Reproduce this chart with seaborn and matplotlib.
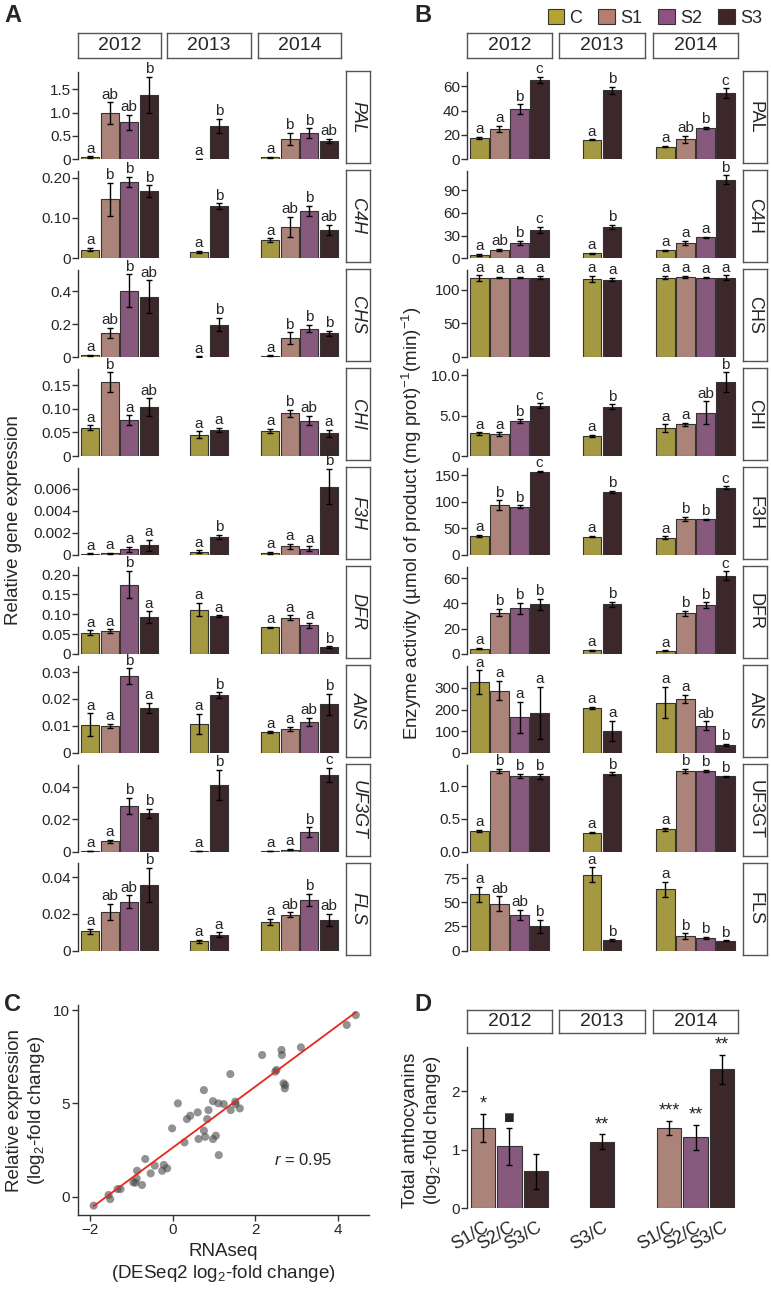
import numpy as np
import pandas as pd
import matplotlib
matplotlib.use('Agg')
import matplotlib.pyplot as plt
from matplotlib.patches import Patch
import seaborn as sns

# ---- data ----
groups = ['C', 'S1', 'S2', 'S3']
years = ['2012', '2013', '2014']
year_groups = [['C', 'S1', 'S2', 'S3'], ['C', 'S3'], ['C', 'S1', 'S2', 'S3']]
genes = ['PAL', 'C4H', 'CHS', 'CHI', 'F3H', 'DFR', 'ANS', 'UF3GT', 'FLS']
colors = {'C': '#b5a432', 'S1': '#b57e70', 'S2': '#8e5181', 'S3': '#3f2527'}

# value order in each list: 2012 C S1 S2 S3 | 2013 C S3 | 2014 C S1 S2 S3
expr_mean = {
    'PAL': [0.04, 0.99, 0.79, 1.38, 0.01, 0.72, 0.04, 0.43, 0.56, 0.39],
    'C4H': [0.021, 0.146, 0.19, 0.167, 0.016, 0.129, 0.045, 0.077, 0.118, 0.07],
    'CHS': [0.01, 0.148, 0.404, 0.368, 0.003, 0.198, 0.008, 0.114, 0.174, 0.144],
    'CHI': [0.060, 0.156, 0.076, 0.103, 0.045, 0.055, 0.053, 0.090, 0.075, 0.048],
    'F3H': [0.0001, 0.00015, 0.0005, 0.00087, 0.0003, 0.0016, 0.0002, 0.00078, 0.00057, 0.0062],
    'DFR': [0.053, 0.057, 0.175, 0.092, 0.112, 0.095, 0.067, 0.091, 0.072, 0.017],
    'ANS': [0.0105, 0.010, 0.0284, 0.0166, 0.0107, 0.0215, 0.0077, 0.0088, 0.0114, 0.018],
    'UF3GT': [0.0002, 0.0065, 0.0283, 0.0237, 0.0002, 0.0415, 0.0003, 0.0012, 0.0121, 0.0477],
    'FLS': [0.0105, 0.0213, 0.0267, 0.036, 0.0051, 0.0087, 0.0155, 0.0195, 0.0278, 0.0167],
}
expr_err = {
    'PAL': [0.02, 0.23, 0.16, 0.38, 0.005, 0.15, 0.01, 0.13, 0.1, 0.05],
    'C4H': [0.004, 0.041, 0.012, 0.014, 0.003, 0.007, 0.004, 0.025, 0.012, 0.012],
    'CHS': [0.005, 0.03, 0.1, 0.1, 0.002, 0.04, 0.003, 0.036, 0.022, 0.014],
    'CHI': [0.005, 0.021, 0.01, 0.019, 0.007, 0.005, 0.004, 0.008, 0.01, 0.008],
    'F3H': [0.00005, 0.00005, 0.0002, 0.0005, 0.0001, 0.0002, 0.0001, 0.0002, 0.0002, 0.0016],
    'DFR': [0.006, 0.005, 0.035, 0.015, 0.016, 0.002, 0.002, 0.006, 0.006, 0.002],
    'ANS': [0.0042, 0.0007, 0.003, 0.002, 0.0038, 0.001, 0.0003, 0.0008, 0.0015, 0.004],
    'UF3GT': [0.0001, 0.001, 0.005, 0.003, 0.0001, 0.0094, 0.0001, 0.0004, 0.003, 0.0045],
    'FLS': [0.0015, 0.0044, 0.0034, 0.0093, 0.0008, 0.0013, 0.0017, 0.0014, 0.0033, 0.0035],
}
expr_letters = {
    'PAL': ['a', 'ab', 'ab', 'b', 'a', 'b', 'a', 'b', 'b', 'ab'],
    'C4H': ['a', 'b', 'b', 'b', 'a', 'b', 'a', 'ab', 'b', 'ab'],
    'CHS': ['a', 'ab', 'b', 'ab', 'a', 'b', 'a', 'b', 'b', 'b'],
    'CHI': ['a', 'b', 'a', 'ab', 'a', 'a', 'a', 'b', 'ab', 'a'],
    'F3H': ['a', 'a', 'a', 'a', 'a', 'b', 'a', 'a', 'a', 'b'],
    'DFR': ['a', 'a', 'b', 'a', 'a', 'a', 'a', 'a', 'a', 'b'],
    'ANS': ['a', 'a', 'b', 'a', 'a', 'b', 'a', 'a', 'ab', 'b'],
    'UF3GT': ['a', 'a', 'b', 'b', 'a', 'b', 'a', 'a', 'b', 'c'],
    'FLS': ['a', 'ab', 'ab', 'b', 'a', 'a', 'a', 'ab', 'b', 'ab'],
}
expr_ymax = {'PAL': 1.86, 'C4H': 0.216, 'CHS': 0.53, 'CHI': 0.184, 'F3H': 0.0079,
             'DFR': 0.22, 'ANS': 0.0324, 'UF3GT': 0.054, 'FLS': 0.0476}
expr_ticks = {
    'PAL': ['0', '0.5', '1.0', '1.5'], 'C4H': ['0', '0.10', '0.20'], 'CHS': ['0', '0.2', '0.4'],
    'CHI': ['0', '0.05', '0.10', '0.15'], 'F3H': ['0', '0.002', '0.004', '0.006'],
    'DFR': ['0', '0.05', '0.10', '0.15', '0.20'], 'ANS': ['0', '0.01', '0.02', '0.03'],
    'UF3GT': ['0', '0.02', '0.04'], 'FLS': ['0', '0.02', '0.04'],
}

enz_mean = {
    'PAL': [17.4, 24.8, 41.3, 65.6, 16, 56.7, 10.5, 16.5, 25.9, 54.5],
    'C4H': [4.4, 11.1, 20, 37.8, 6.7, 41.3, 10.2, 20.4, 27.6, 103.5],
    'CHS': [117, 118, 118, 118, 116, 115, 118, 118.5, 118, 118],
    'CHI': [2.8, 2.68, 4.3, 6.23, 2.5, 6.1, 3.47, 3.93, 5.4, 9.2],
    'F3H': [35.7, 93.6, 91, 157, 34.4, 119, 32.5, 68, 67, 127],
    'DFR': [4, 32.6, 36, 39.2, 2.9, 39.2, 2.4, 32, 38.7, 61.8],
    'ANS': [326, 287, 165, 184, 207, 100, 232, 249, 125, 37],
    'UF3GT': [0.32, 1.23, 1.16, 1.15, 0.29, 1.19, 0.34, 1.23, 1.23, 1.15],
    'FLS': [58, 48.6, 37, 25, 78.5, 10.4, 63.2, 14.6, 13.2, 10],
}
enz_err = {
    'PAL': [1, 2.5, 4, 2.5, 0.5, 3, 0.5, 3, 1, 4],
    'C4H': [1, 1, 3, 4, 0.5, 2.5, 1, 2.5, 1, 6],
    'CHS': [4, 1, 1, 2, 4, 2, 2, 1.5, 1, 3],
    'CHI': [0.15, 0.25, 0.25, 0.3, 0.1, 0.3, 0.45, 0.2, 1.4, 1.2],
    'F3H': [2, 9, 2.5, 1.5, 1.5, 1.5, 2.5, 3.5, 1.5, 2],
    'DFR': [0.5, 3, 4.5, 4.5, 0.3, 2, 0.3, 2, 2, 3.5],
    'ANS': [55, 45, 72, 120, 4, 48, 72, 18, 20, 4],
    'UF3GT': [0.015, 0.03, 0.03, 0.04, 0.01, 0.02, 0.02, 0.03, 0.02, 0.01],
    'FLS': [8, 7.5, 5, 6.5, 7.5, 1, 8, 3, 1, 0.5],
}
enz_letters = {
    'PAL': ['a', 'a', 'b', 'c', 'a', 'b', 'a', 'ab', 'b', 'c'],
    'C4H': ['a', 'ab', 'b', 'c', 'a', 'b', 'a', 'a', 'a', 'b'],
    'CHS': ['a', 'a', 'a', 'a', 'a', 'a', 'a', 'a', 'a', 'a'],
    'CHI': ['a', 'a', 'b', 'c', 'a', 'b', 'a', 'a', 'ab', 'b'],
    'F3H': ['a', 'b', 'b', 'c', 'a', 'b', 'a', 'b', 'b', 'c'],
    'DFR': ['a', 'b', 'b', 'b', 'a', 'b', 'a', 'b', 'b', 'c'],
    'ANS': ['a', 'a', 'a', 'a', 'a', 'a', 'a', 'a', 'ab', 'b'],
    'UF3GT': ['a', 'b', 'b', 'b', 'a', 'b', 'a', 'b', 'b', 'b'],
    'FLS': ['a', 'ab', 'ab', 'b', 'a', 'b', 'a', 'b', 'b', 'b'],
}
enz_ymax = {'PAL': 71.6, 'C4H': 115, 'CHS': 129, 'CHI': 10.8, 'F3H': 164,
            'DFR': 69, 'ANS': 403, 'UF3GT': 1.33, 'FLS': 90}
enz_ticks = {
    'PAL': ['0', '20', '40', '60'], 'C4H': ['0', '30', '60', '90'], 'CHS': ['0', '50', '100'],
    'CHI': ['0', '5.0', '10.0'], 'F3H': ['0', '50', '100', '150'], 'DFR': ['0', '20', '40', '60'],
    'ANS': ['0', '100', '200', '300'], 'UF3GT': ['0.0', '0.5', '1.0'], 'FLS': ['0', '25', '50', '75'],
}

# panel C: RNAseq vs qPCR log2 fold changes
rnaseq_lfc = [-1.92, -1.56, -1.52, -1.34, -1.27, -0.96, -0.91, -0.88, -0.87, -0.75,
              -0.67, -0.54, -0.44, -0.26, -0.22, -0.14, -0.02, 0.12, 0.28, 0.34,
              0.42, 0.60, 0.62, 0.75, 0.75, 0.78, 0.83, 0.86, 0.97, 0.97,
              1.04, 1.10, 1.11, 1.23, 1.39, 1.40, 1.51, 1.52, 1.62, 2.16,
              2.48, 2.51, 2.63, 2.64, 2.68, 2.72, 2.71, 3.10, 4.21, 4.43]
qpcr_lfc = [-0.48, 0.09, -0.13, 0.41, 0.41, 0.77, 0.75, 0.98, 1.39, 0.63,
            2.02, 1.25, 1.66, 1.39, 1.70, 1.52, 3.66, 5.0, 2.91, 4.16,
            4.34, 4.52, 3.09, 5.71, 3.54, 3.21, 4.16, 4.64, 3.09, 5.12,
            3.27, 5.0, 2.23, 4.96, 6.57, 4.64, 5.09, 4.96, 4.73, 7.59,
            6.70, 6.79, 7.86, 7.59, 6.07, 5.98, 5.80, 8.0, 9.20, 9.73]

# panel D: total anthocyanins
d_groups = [['S1/C', 'S2/C', 'S3/C'], ['S3/C'], ['S1/C', 'S2/C', 'S3/C']]
d_mean = [[1.38, 1.06, 0.63], [1.14], [1.38, 1.21, 2.38]]
d_err = [[0.24, 0.32, 0.30], [0.13], [0.12, 0.22, 0.25]]
d_marks = [['*', '\u25a0', ''], ['**'], ['***', '**', '**']]
d_colors = {'S1/C': colors['S1'], 'S2/C': colors['S2'], 'S3/C': colors['S3']}

# ---- style ----
sns.set_theme(style='ticks')
plt.rcParams['font.family'] = ['Liberation Sans', 'DejaVu Sans']
plt.rcParams['mathtext.fontset'] = 'custom'
plt.rcParams['mathtext.rm'] = 'Liberation Sans'
plt.rcParams['mathtext.it'] = 'Liberation Sans:italic'
ink = '#333333'

W, H = 771, 1298
fig = plt.figure(figsize=(W / 100, H / 100), dpi=100)


def px(x0, y0, x1, y1):
    return [x0 / W, 1 - y1 / H, (x1 - x0) / W, (y1 - y0) / H]


def label_box(x0, y0, x1, y1, text, rot=0, style='normal', size=14):
    bx = fig.add_axes(px(x0, y0, x1, y1))
    bx.set_xticks([])
    bx.set_yticks([])
    for s in bx.spines.values():
        s.set_color('#555555')
        s.set_linewidth(1)
    bx.text(0.5, 0.5, text, rotation=rot, style=style, fontsize=size,
            ha='center', va='center', transform=bx.transAxes)


def bars(ax, order, means, errs, marks, palette, width, xlim, ylim, mark_size=11):
    df = pd.DataFrame({'group': order, 'value': means})
    sns.barplot(data=df, x='group', y='value', hue='group', order=order, hue_order=order,
                palette=palette, width=width, edgecolor=ink, linewidth=0.8,
                errorbar=None, legend=False, ax=ax)
    pos = np.arange(len(order))
    ax.errorbar(pos, means, yerr=errs, fmt='none', ecolor='black',
                elinewidth=1, capsize=2.5, capthick=1)
    for p, m, e, t in zip(pos, means, errs, marks):
        ax.annotate(t, (p, m + e), xytext=(0, 0.5), textcoords='offset points',
                    ha='center', va='bottom', fontsize=mark_size, annotation_clip=False)
    ax.set_xlim(*xlim)
    ax.set_ylim(*ylim)
    ax.set_xlabel('')
    ax.set_ylabel('')


def gene_grid(col_x, strip_x, mean_d, err_d, let_d, ymax_d, ticks_d, gene_style):
    for i, g in enumerate(genes):
        zero = 159.3 + 98.9 * i
        top = zero - 87
        k = 0
        for j, (x0, x1) in enumerate(col_x):
            order = year_groups[j]
            n = len(order)
            m = mean_d[g][k:k + n]
            e = err_d[g][k:k + n]
            t = let_d[g][k:k + n]
            k += n
            ax = fig.add_axes(px(x0, top, x1, zero))
            ax.patch.set_alpha(0)
            xl = (-0.62, 3.62) if n == 4 else (-1.62, 2.62)
            bars(ax, order, m, e, t, colors, 0.92, xl, (0, ymax_d[g]))
            ax.set_xticks([])
            if j == 0:
                sns.despine(ax=ax, bottom=True)
                ax.spines['left'].set_color(ink)
                ax.spines['left'].set_linewidth(1)
                ax.set_yticks([float(v) for v in ticks_d[g]])
                ax.set_yticklabels(ticks_d[g])
                ax.tick_params(axis='y', length=4, width=1, color=ink, labelsize=11, pad=1)
            else:
                ax.axis('off')
        label_box(strip_x[0], top - 1, strip_x[1], zero + 4, g, rot=270,
                  style=gene_style, size=13)
    for (x0, x1), y in zip(col_x, years):
        label_box(x0, 33, x1, 58, y)


# ---- panel A and B ----
a_cols = [(78, 161), (167, 251), (258, 341)]
b_cols = [(467, 552), (559, 645), (653, 738)]
gene_grid(a_cols, (346, 370), expr_mean, expr_err, expr_letters, expr_ymax, expr_ticks, 'italic')
gene_grid(b_cols, (743, 767), enz_mean, enz_err, enz_letters, enz_ymax, enz_ticks, 'normal')

fig.text(14 / W, 1 - 520 / H, 'Relative gene expression', rotation=90,
         ha='center', va='center', fontsize=13.5)
fig.text(412 / W, 1 - 523 / H,
         'Enzyme activity (\u00b5mol of product (mg prot)$^{-1}$(min)$^{-1}$)',
         rotation=90, ha='center', va='center', fontsize=13.5)

handles = [Patch(facecolor=colors[g], edgecolor=ink, linewidth=0.8, label=g) for g in groups]
fig.legend(handles=handles, loc='upper right', bbox_to_anchor=(1.0, 1.0), ncol=4,
           frameon=False, fontsize=13, handlelength=0.9, handleheight=0.9,
           handletextpad=0.3, columnspacing=0.9, borderaxespad=0.1)

# ---- panel C ----
axc = fig.add_axes(px(78, 1005, 369, 1215))
sns.regplot(x=rnaseq_lfc, y=qpcr_lfc, ci=None, ax=axc,
            scatter_kws=dict(s=34, color='#4a4a4a', alpha=0.6, edgecolors='none'),
            line_kws=dict(color='#e8261c', linewidth=1.3))
axc.set_xlim(-2.3, 4.75)
axc.set_ylim(-0.98, 10.27)
axc.set_xticks([-2, 0, 2, 4])
axc.set_yticks([0, 5, 10])
sns.despine(ax=axc)
for s in ('left', 'bottom'):
    axc.spines[s].set_color(ink)
    axc.spines[s].set_linewidth(1)
axc.tick_params(length=4, width=1, color=ink, labelsize=11, pad=2)
axc.text(2.45, 1.96, '$r$ = 0.95', fontsize=12, va='center')
axc.set_xlabel('RNAseq\n(DESeq2 log$_2$-fold change)', fontsize=13.5, labelpad=4)
axc.set_ylabel('Relative expression\n(log$_2$-fold change)', fontsize=13.5, labelpad=4)

# ---- panel D ----
for j, (x0, x1) in enumerate(b_cols):
    axd = fig.add_axes(px(x0, 1047, x1, 1208))
    axd.patch.set_alpha(0)
    n = len(d_groups[j])
    xl = (-0.6, 2.6) if n == 3 else (-1.6, 1.6)
    bars(axd, d_groups[j], d_mean[j], d_err[j], d_marks[j], d_colors, 0.93, xl, (0, 2.76),
         mark_size=13)
    axd.tick_params(axis='x', length=0, pad=8, labelsize=13)
    plt.setp(axd.get_xticklabels(), rotation=30, ha='right', rotation_mode='anchor')
    if j == 0:
        sns.despine(ax=axd, bottom=True)
        axd.spines['left'].set_color(ink)
        axd.spines['left'].set_linewidth(1)
        axd.set_yticks([0, 1, 2])
        axd.tick_params(axis='y', length=4, width=1, color=ink, labelsize=11, pad=1)
    else:
        sns.despine(ax=axd, left=True, bottom=True)
        axd.set_yticks([])
    label_box(x0, 1010, x1, 1033, years[j])

fig.text(422 / W, 1 - 1130 / H, 'Total anthocyanins\n(log$_2$-fold change)', rotation=90,
         ha='center', va='center', fontsize=13.5)

for lab, x, y in [('A', 4, 4), ('B', 414, 4), ('C', 4, 993), ('D', 414, 993)]:
    fig.text(x / W, 1 - y / H, lab, fontsize=17, fontweight='bold', ha='left', va='top')

fig.savefig('out.png', dpi=100)
